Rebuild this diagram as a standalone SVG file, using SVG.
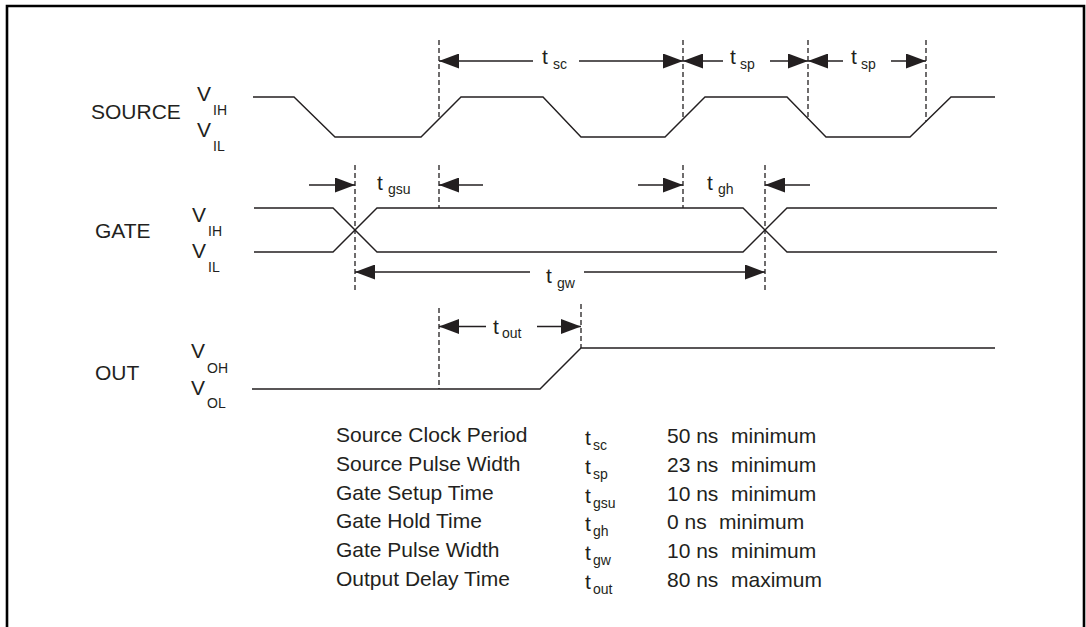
<svg xmlns="http://www.w3.org/2000/svg" width="1086" height="627" viewBox="0 0 1086 627">
<defs>
<style>
text{font-family:"Liberation Sans",Arial,Helvetica,sans-serif;fill:#231f20;font-size:21px}
.sub{font-size:14px}
.wave{fill:none;stroke:#231f20;stroke-width:1.4;stroke-linejoin:miter}
.dash{fill:none;stroke:#231f20;stroke-width:1.3;stroke-dasharray:5,3}
.arr{fill:none;stroke:#231f20;stroke-width:1.4;marker-end:url(#ah)}
</style>
<marker id="ah" markerUnits="userSpaceOnUse" markerWidth="20" markerHeight="15" refX="20" refY="7.5" orient="auto">
<path d="M0,0 L20,7.5 L0,15 Z" fill="#231f20"/>
</marker>
</defs>
<rect width="1086" height="627" fill="#fff"/>
<path id="frame" d="M7,640 V6 H1084 V640" fill="none" stroke="#000" stroke-width="2.6"/>

<g id="source">
<text x="91" y="119">SOURCE</text>
<text x="197" y="101">V</text><text class="sub" x="213" y="115">IH</text>
<text x="197" y="137">V</text><text class="sub" x="213" y="151">IL</text>
<path class="wave" d="M253,97 H294 L335,137 H421 L461,97 H543 L581,137 H665 L705,97 H787 L826,137 H910 L951,97 H995"/>
</g>

<g id="gate">
<text x="95" y="238">GATE</text>
<text x="192" y="222">V</text><text class="sub" x="208" y="236">IH</text>
<text x="192" y="258">V</text><text class="sub" x="208" y="272">IL</text>
<path class="wave" d="M254,208 H333 L377,252 H743 L787,208 H997"/>
<path class="wave" d="M254,252 H333 L377,208 H743 L787,252 H997"/>
</g>

<g id="out">
<text x="95" y="380">OUT</text>
<text x="191" y="358">V</text><text class="sub" x="207" y="373">OH</text>
<text x="191" y="395">V</text><text class="sub" x="207" y="408">OL</text>
<path class="wave" d="M252,389 H540 L581,348 H995"/>
</g>

<g id="connectors">
<path class="dash" d="M439,40 V119 M683,40 V119 M808,40 V118.5 M926,40 V121.4"/>
<path class="dash" d="M355,165 V290 M439,165 V208 M683,165 V208 M765,165 V290"/>
<path class="dash" d="M439,308 V389 M581,304 V348"/>
<line class="arr" x1="533" y1="61" x2="439" y2="61"/>
<line class="arr" x1="579" y1="61" x2="683" y2="61"/>
<line class="arr" x1="723" y1="61" x2="683" y2="61"/>
<line class="arr" x1="770" y1="61" x2="808" y2="61"/>
<line class="arr" x1="843" y1="61" x2="808" y2="61"/>
<line class="arr" x1="891" y1="61" x2="926" y2="61"/>
<line class="arr" x1="309" y1="185" x2="355" y2="185"/>
<line class="arr" x1="483" y1="185" x2="439" y2="185"/>
<line class="arr" x1="638" y1="185" x2="683" y2="185"/>
<line class="arr" x1="810" y1="185" x2="765" y2="185"/>
<line class="arr" x1="530" y1="272" x2="355" y2="272"/>
<line class="arr" x1="584" y1="272" x2="765" y2="272"/>
<line class="arr" x1="486" y1="326.5" x2="439" y2="326.5"/>
<line class="arr" x1="537" y1="326.5" x2="581" y2="326.5"/>
</g>

<g id="timing-labels">
<text x="542" y="64">t</text><text class="sub" x="553" y="69">sc</text>
<text x="730" y="64">t</text><text class="sub" x="740" y="69">sp</text>
<text x="851" y="64">t</text><text class="sub" x="861" y="69">sp</text>
<text x="377" y="190">t</text><text class="sub" x="388" y="194">gsu</text>
<text x="707" y="190">t</text><text class="sub" x="718" y="194">gh</text>
<text x="546" y="283">t</text><text class="sub" x="557" y="288">gw</text>
<text x="493" y="334">t</text><text class="sub" x="502" y="338">out</text>
</g>

<g id="table">
<text x="336" y="442">Source Clock Period</text>
<text x="336" y="471">Source Pulse Width</text>
<text x="336" y="500">Gate Setup Time</text>
<text x="336" y="528">Gate Hold Time</text>
<text x="336" y="557">Gate Pulse Width</text>
<text x="336" y="586">Output Delay Time</text>

<text x="585" y="445">t</text><text class="sub" x="593" y="450">sc</text>
<text x="585" y="474">t</text><text class="sub" x="593" y="479">sp</text>
<text x="585" y="503">t</text><text class="sub" x="593" y="508">gsu</text>
<text x="585" y="531">t</text><text class="sub" x="593" y="536">gh</text>
<text x="585" y="560">t</text><text class="sub" x="593" y="565">gw</text>
<text x="585" y="589">t</text><text class="sub" x="593" y="594">out</text>

<text x="667" y="443">50 ns</text><text x="731" y="443">minimum</text>
<text x="667" y="472">23 ns</text><text x="731" y="472">minimum</text>
<text x="667" y="501">10 ns</text><text x="731" y="501">minimum</text>
<text x="667" y="529">0 ns</text><text x="719" y="529">minimum</text>
<text x="667" y="558">10 ns</text><text x="731" y="558">minimum</text>
<text x="667" y="587">80 ns</text><text x="731" y="587">maximum</text>
</g>
</svg>
